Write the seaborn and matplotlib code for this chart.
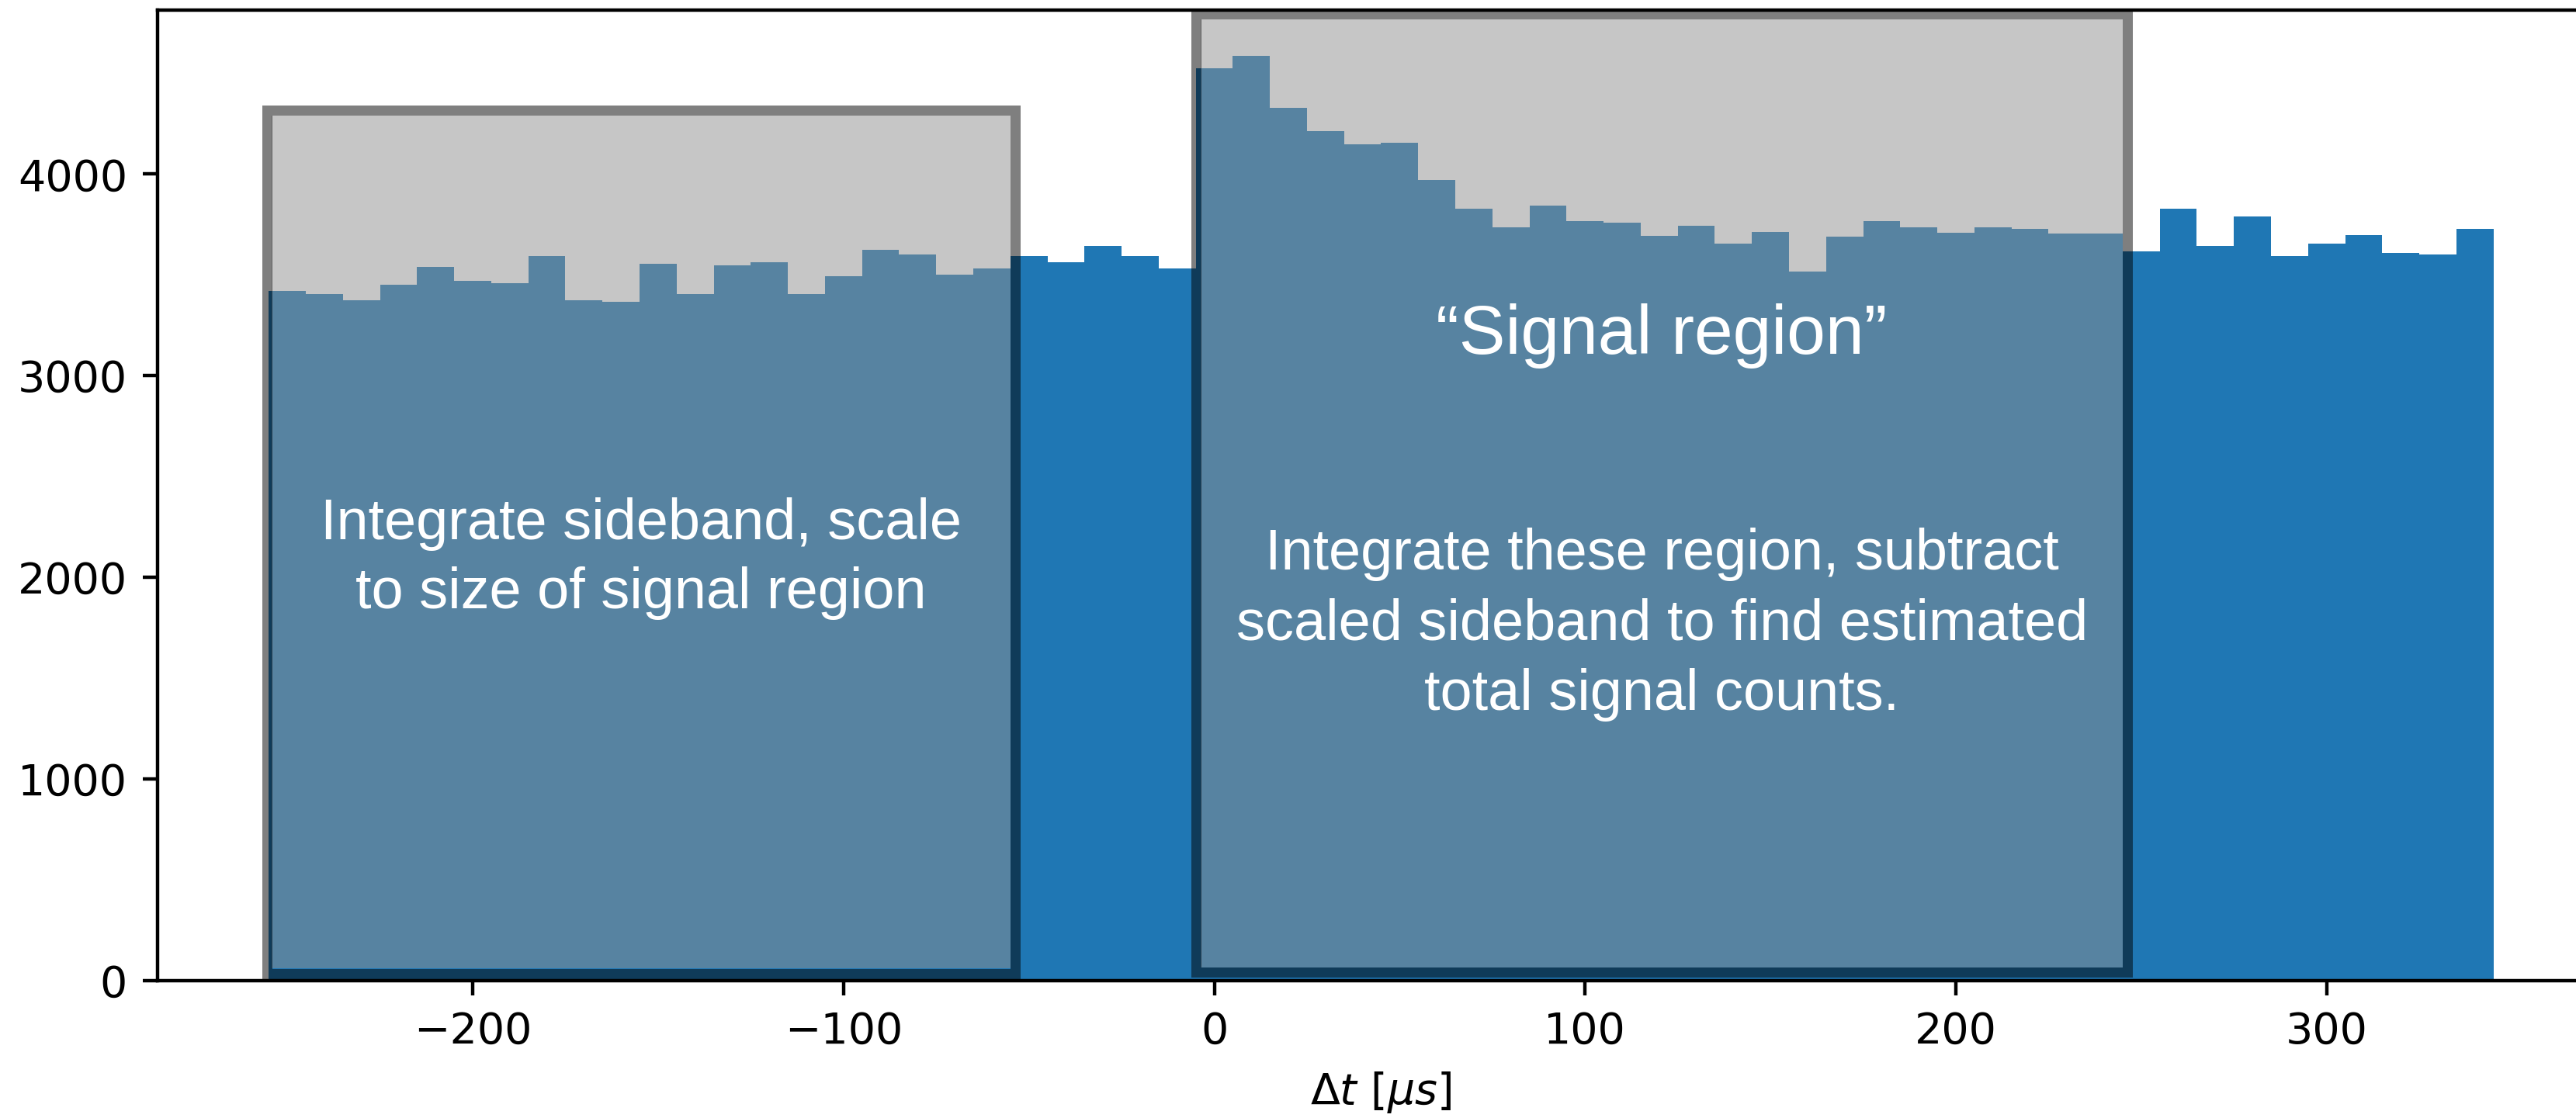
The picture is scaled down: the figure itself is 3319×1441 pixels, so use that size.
import numpy as np
import pandas as pd
import matplotlib
matplotlib.use("Agg")
import matplotlib.pyplot as plt
from matplotlib.patches import Rectangle
import seaborn as sns

# ---------------- data ----------------
bin_width = 10
bin_edges = list(range(-255, 345 + bin_width, bin_width))   # 60 bins
counts = [
    # -255 .. -5
    3422, 3406, 3374, 3452, 3539, 3469, 3460, 3593, 3375, 3368,
    3555, 3406, 3547, 3563, 3406, 3492, 3626, 3601, 3500, 3531,
    3593, 3562, 3642, 3593, 3531,
    # -5 .. 345
    4523, 4585, 4329, 4211, 4148, 4156, 3970, 3829, 3734, 3843,
    3765, 3759, 3695, 3742, 3656, 3711, 3517, 3688, 3765, 3734,
    3710, 3734, 3727, 3704, 3704, 3617, 3828, 3642, 3790, 3593,
    3655, 3696, 3610, 3601, 3727,
]
bin_centers = [(a + b) / 2 for a, b in zip(bin_edges[:-1], bin_edges[1:])]
df = pd.DataFrame({"dt": bin_centers, "n": counts})

# annotation regions (x0, x1, y0, y1) in data units: border midline, inner fill
sideband_border = (-255.5, -53.6, 34.6, 4317.6)
sideband_fill = (-254.2, -55.0, 61.5, 4290.7)
signal_border = (-4.9, 246.3, 40.4, 4792.5)
signal_fill = (-3.7, 245.0, 65.4, 4766.0)

sideband_lines = ["Integrate sideband, scale", "to size of signal region"]
signal_title = "\u201cSignal region\u201d"
signal_lines = ["Integrate these region, subtract",
                "scaled sideband to find estimated",
                "total signal counts."]

# ---------------- figure ----------------
W, H, DPI = 3319, 1441, 400
fig = plt.figure(figsize=(W / DPI, H / DPI), dpi=DPI)
ax = fig.add_axes([203 / W, 177 / H, 3153 / W, 1251.3 / H])

sns.histplot(data=df, x="dt", weights="n", bins=bin_edges,
             color="#1f77b4", alpha=1.0, linewidth=0, ax=ax)

ax.set_xlim(-285, 375)
ax.set_ylim(0, max(counts) * 1.05)
ax.set_ylabel("")
ax.set_xlabel(r"$\Delta t$ [$\mu s$]")

fill_col = (0.561, 0.561, 0.561, 0.5)
edge_col = (0.0, 0.0, 0.0, 0.5)
lw_pt = 13 / DPI * 72

for border, fill in [(sideband_border, sideband_fill), (signal_border, signal_fill)]:
    fx0, fx1, fy0, fy1 = fill
    ax.add_patch(Rectangle((fx0, fy0), fx1 - fx0, fy1 - fy0,
                           facecolor=fill_col, edgecolor="none", linewidth=0, zorder=3))
    bx0, bx1, by0, by1 = border
    ax.add_patch(Rectangle((bx0, by0), bx1 - bx0, by1 - by0,
                           fill=False, edgecolor=edge_col, linewidth=lw_pt,
                           joinstyle="miter", zorder=3))

font = ["Liberation Sans", "DejaVu Sans"]
sb_cx = (sideband_border[0] + sideband_border[1]) / 2
sg_cx = (signal_border[0] + signal_border[1]) / 2

for txt, yb in zip(sideband_lines, [2188, 1845]):
    ax.text(sb_cx, yb, txt, color="white", fontsize=13.3, family=font,
            ha="center", va="baseline", zorder=5)

ax.text(sg_cx, 3110, signal_title, color="white", fontsize=16.1, family=font,
        ha="center", va="baseline", zorder=5)
for txt, yb in zip(signal_lines, [2038, 1692, 1342]):
    ax.text(sg_cx, yb, txt, color="white", fontsize=13.3, family=font,
            ha="center", va="baseline", zorder=5)

fig.savefig("out.png", dpi=DPI)
